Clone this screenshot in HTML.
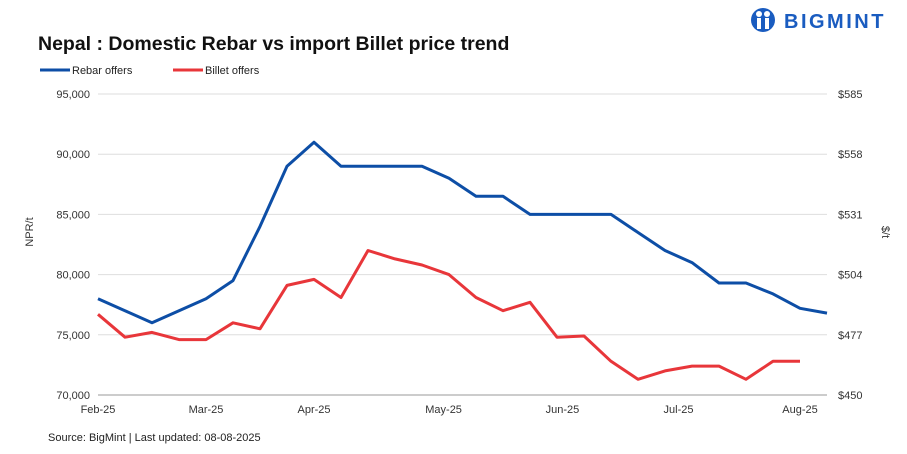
<!DOCTYPE html>
<html><head><meta charset="utf-8"><style>
body{margin:0;background:#fff;font-family:"Liberation Sans",sans-serif;}
#wrap{position:relative;width:907px;height:454px;overflow:hidden;}
</style></head><body><div id="wrap">
<svg id="c" width="907" height="454" xmlns="http://www.w3.org/2000/svg">
<text x="38" y="50" font-size="19.5" font-weight="bold" fill="#111">Nepal : Domestic Rebar vs import Billet price trend</text>
<g>
<circle cx="763" cy="20" r="12" fill="#1a5cc0"/>
<circle cx="759" cy="14" r="3" fill="#fff"/><circle cx="767" cy="14" r="3" fill="#fff"/>
<rect x="757" y="18" width="4" height="11" fill="#fff"/><rect x="765" y="18" width="4" height="11" fill="#fff"/>
<text x="784" y="28" font-size="20" font-weight="bold" fill="#1a5cc0" letter-spacing="2.5">BIGMINT</text>
</g>
<g>
<line x1="40" y1="70" x2="70" y2="70" stroke="#0d4ea6" stroke-width="3"/>
<text x="72" y="74" font-size="11" fill="#222">Rebar offers</text>
<line x1="173" y1="70" x2="203" y2="70" stroke="#e8363a" stroke-width="3"/>
<text x="205" y="74" font-size="11" fill="#222">Billet offers</text>
</g>
<text transform="translate(33,232) rotate(-90)" font-size="11" fill="#333" text-anchor="middle">NPR/t</text>
<text transform="translate(882,232) rotate(90)" font-size="11" fill="#333" text-anchor="middle">$/t</text>
<text x="48" y="441" font-size="11" fill="#222">Source: BigMint | Last updated: 08-08-2025</text>
<g id="grid"></g><g id="axes"></g><g id="series"></g>
</svg>
<script>
const yTicks=[70000,75000,80000,85000,90000,95000];
const y2Ticks=["$450","$477","$504","$531","$558","$585"];
const monthLabels=["Feb-25","Mar-25","Apr-25","May-25","Jun-25","Jul-25","Aug-25"];
const monthIdx=[0,4,8,12.8,17.2,21.5,26];
const rebar=[78000,77000,76000,77000,78000,79500,84000,89000,91000,89000,89000,89000,89000,88000,86500,86500,85000,85000,85000,85000,83500,82000,81000,79300,79300,78400,77200,76800];
const billet=[76700,74800,75200,74600,74600,76000,75500,79100,79600,78100,82000,81300,80800,80000,78100,77000,77700,74800,74900,72800,71300,72000,72400,72400,71300,72800,72800,null];
const NS="http://www.w3.org/2000/svg";
const x0=98,x1=827,yTop=94,yBot=395;
const X=i=>x0+(x1-x0)*i/(rebar.length-1);
const Y=v=>yBot-(v-70000)/(95000-70000)*(yBot-yTop);
function mk(t,a,p){const e=document.createElementNS(NS,t);for(const k in a)e.setAttribute(k,a[k]);p.appendChild(e);return e;}
const grid=document.getElementById('grid'),axes=document.getElementById('axes'),ser=document.getElementById('series');
yTicks.forEach((v,i)=>{
 const l=mk('line',{x1:x0,x2:x1,y1:Y(v),y2:Y(v),stroke:i==0?'#999':'#dedede','stroke-width':1},grid);
 
 
 const t=mk('text',{x:90,y:Y(v)+4,'font-size':11,fill:'#333','text-anchor':'end'},axes);
 t.textContent=v.toLocaleString('en-US');
 
 
 const t2=mk('text',{x:838,y:Y(v)+4,'font-size':11,fill:'#333'},axes);
 t2.textContent=y2Ticks[i];
 
 
});
monthLabels.forEach((m,i)=>{
 const t=mk('text',{x:X(monthIdx[i]),y:413,'font-size':11,fill:'#333','text-anchor':'middle'},axes);
 t.textContent=m;
 
 
});
function line(data,color,name){
 const pts=data.map((v,i)=>v==null?null:X(i).toFixed(1)+','+Y(v).toFixed(1)).filter(p=>p);
 const p=mk('polyline',{points:pts.join(' '),fill:'none',stroke:color,'stroke-width':3,'stroke-linejoin':'round'},ser);
 
 
}
line(rebar,'#0d4ea6','rebar-line');
line(billet,'#e8363a','billet-line');
</script></div></body></html>
